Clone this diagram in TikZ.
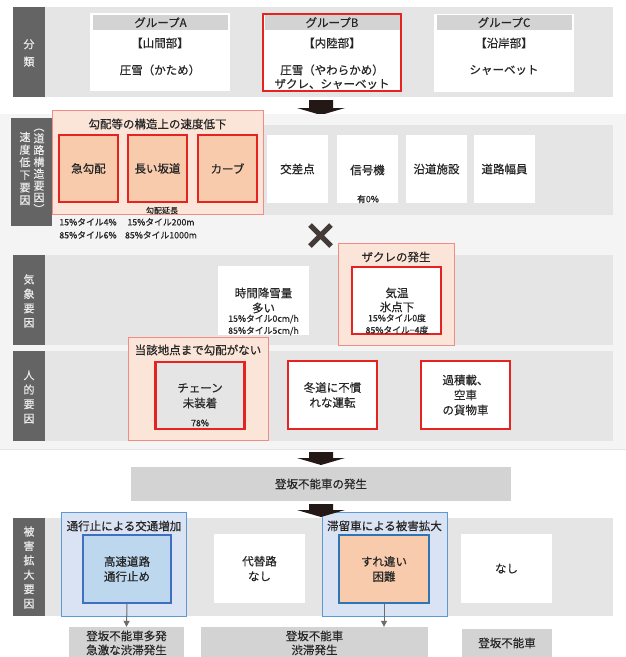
\documentclass[tikz,border=0pt]{standalone}
\usepackage{fontspec}
\newfontfamily\jp[FakeBold=0.45]{Noto Sans CJK JP}
\usetikzlibrary{arrows.meta}
\definecolor{band}{HTML}{E5E5E5}
\definecolor{lightbg}{HTML}{F4F4F4}
\definecolor{darklab}{HTML}{646464}
\definecolor{tx}{HTML}{262626}
\definecolor{pinkfill}{HTML}{FBE5D8}
\definecolor{pinkdraw}{HTML}{F28A85}
\definecolor{orfill}{HTML}{F8CBAD}
\definecolor{redb}{HTML}{E52421}
\definecolor{grpfill}{HTML}{DAE3F3}
\definecolor{grpdraw}{HTML}{5B9BD5}
\definecolor{innblue}{HTML}{BDD7EE}
\definecolor{blueb}{HTML}{3F6FC0}
\definecolor{blueb2}{HTML}{2E75B6}
\definecolor{resgray}{HTML}{D3D3D3}
\definecolor{arrowc}{HTML}{231815}
\begin{document}
\begin{tikzpicture}[x=1pt,y=-1pt,
  txt/.style={font=\jp\fontsize{11.5}{15}\selectfont, text=tx, align=center, inner sep=0pt},
  sm/.style={font=\jp\fontsize{8.8}{11}\selectfont, text=tx, align=center, inner sep=0pt},
  vlab/.style={font=\jp\fontsize{11}{14.4}\selectfont, text=white!92!black, align=center, inner sep=0pt},
  sz/.style 2 args={minimum width=#1pt, minimum height=#2pt, inner sep=0pt},
  whitebox/.style={fill=white, draw=none},
  redbox/.style={draw=redb, line width=2.4pt},
  pinkgrp/.style={fill=pinkfill, draw=pinkdraw, line width=1pt},
  bluegrp/.style={fill=grpfill, draw=grpdraw, line width=1pt},
  resbox/.style={fill=resgray, draw=none},
  bigarrow/.style={fill=arrowc},
  smallarrow/.style={line width=1pt, -{Triangle[width=6pt,length=6pt]}, draw=gray!85!black}
]
\useasboundingbox (0,0) rectangle (626,657);
\fill[white] (0,0) rectangle (626,657);

% ===== top section =====
\fill[band] (45,7) rectangle (613,97);
\fill[darklab] (13,7) rectangle (45,97);
\node[vlab, font=\jp\fontsize{11}{17.5}\selectfont] (lab1) at (29,53) {分\\類};

\node[whitebox, sz={140}{78}] (gA) at (160,52) {};
\node[fill=resgray, sz={135}{15}] (gAh) at (160.5,22.5) {};
\node[txt] (gAt) at (gAh) {グループA};
\node[txt] (gA1) at (160,43) {【山間部】};
\node[txt] (gA2) at (160,70) {圧雪（かため）};

\node[whitebox, redbox, sz={138}{77}] (gB) at (332,52.5) {};
\node[fill=resgray, sz={135}{15}] (gBh) at (332,22.5) {};
\node[txt] (gBt) at (gBh) {グループB};
\node[txt] (gB1) at (332,43) {【内陸部】};
\node[txt] (gB2) at (332,70) {圧雪（やわらかめ）};
\node[txt] (gB3) at (332,84) {ザクレ、シャーベット};

\node[whitebox, sz={140}{78}] (gC) at (504,52.5) {};
\node[fill=resgray, sz={135}{15}] (gCh) at (504,22.5) {};
\node[txt] (gCt) at (gCh) {グループC};
\node[txt] (gC1) at (504,43) {【沿岸部】};
\node[txt] (gC2) at (504,70) {シャーベット};

\fill[bigarrow] (309,100) -- (333,100) -- (333,108) -- (345,108) -- (321,115) -- (297,108) -- (309,108) -- cycle;

% ===== factor section background =====
\fill[lightbg] (0,114) rectangle (626,449);
\draw[band, line width=0.8pt] (0,449) -- (626,449);

% road row
\fill[band] (52,125) rectangle (613,215);
\fill[darklab] (11,118) rectangle (52,226);
\node[vlab, font=\jp\fontsize{11}{12.6}\selectfont] (lab2a) at (25,168.5) {速\\度\\低\\下\\要\\因};
\node[vlab, font=\jp\fontsize{11}{11.8}\selectfont] (lab2b) at (39,171) {︵\\道\\路\\構\\造\\要\\因\\︶};

\node[pinkgrp, sz={211}{104}] (slope) at (157.5,162) {};
\node[txt] (slopet) at (157.5,124) {勾配等の構造上の速度低下};
\node[fill=orfill, redbox, sz={59}{67}] (r1) at (88.5,168.5) {};
\node[txt] at (r1) {急勾配};
\node[fill=orfill, redbox, sz={59}{67}] (r2) at (157.5,168.5) {};
\node[txt] at (r2) {長い坂道};
\node[fill=orfill, redbox, sz={59}{67}] (r3) at (227.5,168.5) {};
\node[txt] at (r3) {カーブ};
\node[sm, font=\jp\fontsize{8}{9}\selectfont] (r2n) at (162,210.5) {勾配延長};
\node[sm] (r1a) at (88,222) {15\%タイル4\%};
\node[sm] (r1b) at (88,235) {85\%タイル6\%};
\node[sm] (r2a) at (161,222) {15\%タイル200m};
\node[sm] (r2b) at (161,235) {85\%タイル1000m};

\node[whitebox, sz={61}{68}] (r4) at (297.5,169) {};
\node[txt] at (r4) {交差点};
\node[whitebox, sz={61}{68}] (r5) at (367.5,169) {};
\node[txt] at (367.5,170) {信号機};
\node[sm] (r5a) at (368,199) {有0\%};
\node[whitebox, sz={61}{68}] (r6) at (436.5,169) {};
\node[txt] at (r6) {沿道施設};
\node[whitebox, sz={61}{68}] (r7) at (504.5,169) {};
\node[txt] at (r7) {道路幅員};

\draw[color=arrowc!85!white, line width=5pt] (310,225) -- (331,246) (331,225) -- (310,246);

% weather row
\fill[band] (45,255) rectangle (613,345);
\fill[darklab] (13,255) rectangle (45,345);
\node[vlab] (lab3) at (29,301) {気\\象\\要\\因};

\node[whitebox, sz={91}{69}] (w1) at (263.5,300.5) {};
\node[txt] (w1a) at (263.5,293) {時間降雪量};
\node[txt] (w1b) at (263.5,308) {多い};
\node[sm] (w1c) at (263.5,319) {15\%タイル0cm/h};
\node[sm] (w1d) at (263.5,331) {85\%タイル5cm/h};

\node[pinkgrp, sz={116}{102}] (zg) at (396,294) {};
\node[txt] (zgt) at (396,257) {ザクレの発生};
\node[whitebox, redbox, sz={89}{67}] (w2) at (396.5,300.5) {};
\node[txt] (w2a) at (397,293) {気温};
\node[txt] (w2b) at (397,307) {氷点下};
\node[sm] (w2c) at (397,318) {15\%タイル0度};
\node[sm] (w2d) at (397,330) {85\%タイル−4度};

% human row
\fill[band] (45,351) rectangle (613,441);
\fill[darklab] (13,351) rectangle (45,441);
\node[vlab] (lab4) at (29,397) {人\\的\\要\\因};

\node[pinkgrp, sz={140}{103}] (cg) at (198,388.5) {};
\node[txt] (cgt) at (198,350) {当該地点まで勾配がない};
\node[fill=band, redbox, sz={89}{67}] (h1) at (200,395.5) {};
\node[txt] (h1a) at (200,388) {チェーン};
\node[txt] (h1b) at (200,403) {未装着};
\node[sm] (h1c) at (200,423) {78\%};

\node[whitebox, redbox, sz={89}{68}] (h2) at (332.5,395) {};
\node[txt] at (h2) {冬道に不慣\\れな運転};
\node[whitebox, redbox, sz={89}{68}] (h3) at (465.5,395) {};
\node[txt] at (h3) {過積載、\\空車\\の貨物車};

\fill[bigarrow] (309,452) -- (333,452) -- (333,458) -- (345,458) -- (321,465) -- (297,458) -- (309,458) -- cycle;

\node[resbox, sz={380}{34}] (occ) at (321,484) {};
\node[txt] at (occ) {登坂不能車の発生};

% ===== damage row =====
\fill[band] (45,518) rectangle (613,616);
\fill[darklab] (13,518) rectangle (45,616);
\node[vlab] (lab5) at (29,567.5) {被\\害\\拡\\大\\要\\因};

\node[bluegrp, sz={125}{104}] (bg1) at (123.5,564) {};
\node[txt] (bg1t) at (124,526) {通行止による交通増加};
\node[fill=innblue, draw=blueb, line width=2.4pt, sz={88}{68}] (d1) at (127,569) {};
\node[txt] at (d1) {高速道路\\通行止め};

\node[whitebox, sz={91}{69}] (d2) at (259.5,568.5) {};
\node[txt] at (d2) {代替路\\なし};

\node[bluegrp, sz={125}{104}] (bg2) at (384.5,564) {};
\node[txt] (bg2t) at (384.5,526) {滞留車による被害拡大};
\node[fill=orfill, draw=blueb2, line width=2.4pt, sz={90}{68}] (d3) at (384,569) {};
\node[txt] at (d3) {すれ違い\\困難};

\node[whitebox, sz={91}{69}] (d4) at (506.5,568.5) {};
\node[txt] at (d4) {なし};

\fill[bigarrow] (309,504) -- (333,504) -- (333,510) -- (345,510) -- (321,517) -- (297,510) -- (309,510) -- cycle;

\node[resbox, sz={115}{30}] (e1) at (126.5,642) {};
\node[txt] at (126.5,636) {登坂不能車多発};
\node[txt] at (126.5,650) {急激な渋滞発生};
\node[resbox, sz={227}{30}] (e2) at (314.5,642) {};
\node[txt] at (314.5,636) {登坂不能車};
\node[txt] at (314.5,650) {渋滞発生};
\node[resbox, sz={90}{28}] (e3) at (507,643) {};
\node[txt] at (e3) {登坂不能車};

\draw[smallarrow] (d1.south) -- (e1.north);
\draw[smallarrow] (d3.south) -- (d3.south |- e2.north);
\end{tikzpicture}
\end{document}
